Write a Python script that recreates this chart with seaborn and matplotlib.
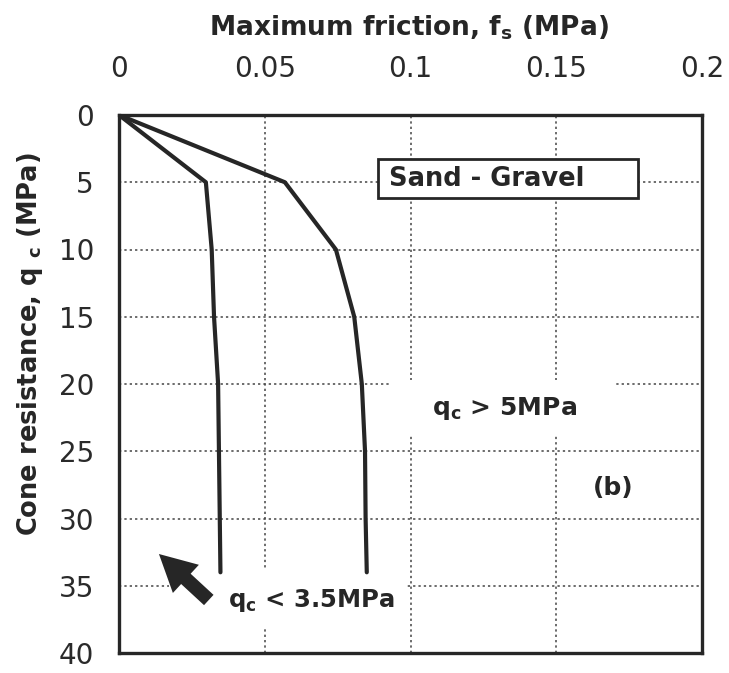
import matplotlib
matplotlib.use("Agg")
import matplotlib.pyplot as plt
import seaborn as sns
import pandas as pd
from matplotlib.patches import Rectangle

# ---- data ----
qc_low = [0, 5, 10, 15, 20, 34]
fs_low = [0, 0.0298, 0.0318, 0.0326, 0.0340, 0.0348]
qc_high = [0, 5, 10, 15, 20, 25, 30, 34]
fs_high = [0, 0.0569, 0.0744, 0.0807, 0.0833, 0.0844, 0.0846, 0.0850]
x_ticks = [0, 0.05, 0.1, 0.15, 0.2]
x_tick_labels = ["0", "0.05", "0.1", "0.15", "0.2"]
y_ticks = [0, 5, 10, 15, 20, 25, 30, 35, 40]
y_tick_labels = ["0", "5", "10", "15", "20", "25", "30", "35", "40"]

sns.set_theme(style="white")
plt.rcParams["font.family"] = ["DejaVu Sans"]

fig = plt.figure(figsize=(7.29, 6.73), dpi=100)
ax = fig.add_axes([119/729, 1-653/673, (702-119)/729, (653-115)/673])

dark = "#262626"
df_low = pd.DataFrame({"fs": fs_low, "qc": qc_low})
df_high = pd.DataFrame({"fs": fs_high, "qc": qc_high})
sns.lineplot(data=df_low, x="fs", y="qc", sort=False, estimator=None, ax=ax,
             color=dark, lw=3.0, zorder=4)
sns.lineplot(data=df_high, x="fs", y="qc", sort=False, estimator=None, ax=ax,
             color=dark, lw=3.0, zorder=4)

ax.set_xlim(0, 0.2)
ax.set_ylim(40, 0)
ax.xaxis.tick_top()
ax.set_xticks(x_ticks)
ax.set_xticklabels(x_tick_labels)
ax.set_yticks(y_ticks)
ax.set_yticklabels(y_tick_labels)
ax.tick_params(axis="x", length=0, pad=23, labelsize=20, colors="#2a2a2a")
ax.tick_params(axis="y", length=0, pad=18, labelsize=20, colors="#2a2a2a")
ax.set_xlabel("")
ax.set_ylabel("")

ax.set_axisbelow(True)
ax.grid(True, linestyle=(0, (1.5, 2.0)), linewidth=1.1, color="#444444")

for s in ax.spines.values():
    s.set_linewidth(2.4)
    s.set_color(dark)

# white masks behind labels (interrupt the grid)
ax.add_patch(Rectangle((0.093, 19.7), 0.077, 4.2, facecolor="white",
                       edgecolor="none", zorder=1.5))
ax.add_patch(Rectangle((0.017, 33.8), 0.0815, 4.3, facecolor="white",
                       edgecolor="none", zorder=1.5))
# Sand - Gravel box
ax.add_patch(Rectangle((0.089, 3.3), 0.089, 2.9, facecolor="white",
                       edgecolor=dark, lw=2.0, zorder=5))
ax.text(0.0925, 4.75, "Sand - Gravel", fontsize=18.5, fontweight="bold",
        color=dark, ha="left", va="center", zorder=6)

ax.text(0.1075, 21.8, r"q$_\mathregular{c}$ > 5MPa", fontsize=18,
        fontweight="bold", color=dark, ha="left", va="center", zorder=6)
ax.text(0.1695, 27.7, "(b)", fontsize=18, fontweight="bold", color=dark,
        ha="center", va="center", zorder=6)
ax.text(0.0375, 36.1, r"q$_\mathregular{c}$ < 3.5MPa", fontsize=17.5,
        fontweight="bold", color=dark, ha="left", va="center", zorder=6)

ax.annotate("", xy=(0.0130, 32.5), xytext=(0.0315, 36.2),
            arrowprops=dict(arrowstyle="simple,head_length=1.1,head_width=1.15,tail_width=0.42",
                            mutation_scale=24, color=dark, lw=0), zorder=6)

fig.text(409/729, 1-28/673, r"Maximum friction, f$_\mathregular{s}$ (MPa)",
         fontsize=19, fontweight="bold", color=dark, ha="center", va="center")
fig.text(30/729, 1-344/673, r"Cone resistance, q $_\mathregular{c}$ (MPa)",
         fontsize=18.5, fontweight="bold", color=dark, ha="center", va="center",
         rotation=90)

fig.savefig("out.png", dpi=100, facecolor="white")
